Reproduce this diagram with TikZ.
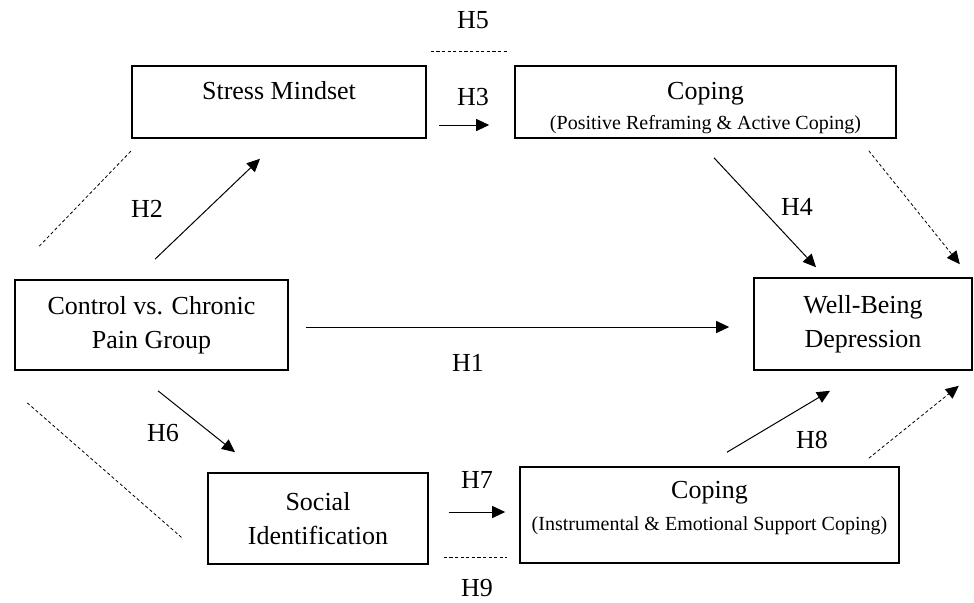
\documentclass[tikz,border=0pt]{standalone}
\usepackage{fontspec}
\setmainfont{Liberation Serif}
\usetikzlibrary{arrows.meta}
\newcommand{\detailfont}{\fontsize{10}{12}\selectfont}

\begin{document}
\begin{tikzpicture}[x=0.5pt, y=-0.5pt,
        varbox/.style={draw, line width=0.8pt, align=center, inner sep=0pt, font=\fontsize{13}{17}\selectfont},
        link/.style={-{Triangle[length=6.5pt,width=6pt]}, line width=0.5pt},
        ind/.style={dash pattern=on 1.6pt off 1.2pt, line width=0.4pt},
        indarr/.style={ind, -{Triangle[length=6.5pt,width=6pt]}},
        hyp/.style={font=\fontsize{13}{15}\selectfont, inner sep=0pt}
    ]
    \useasboundingbox (0,0) rectangle (974,602);

    % BOXES
    \node[varbox, minimum width=147pt, minimum height=36pt, text depth=12pt] (stress) at (279,102) {Stress Mindset};
    \node[varbox, minimum width=190.5pt, minimum height=36pt] (copa) at (705.5,102)
        {\rule{0pt}{15pt}Coping\\[-2pt]{\detailfont (Positive Reframing \& Active Coping)}};
    \node[varbox, minimum width=136.5pt, minimum height=45pt] (group) at (151.5,325) {Control vs. Chronic\\Pain Group};
    \node[varbox, minimum width=109pt, minimum height=46pt] (wb) at (863,324) {Well-Being\\Depression};
    \node[varbox, minimum width=110pt, minimum height=45.5pt] (socid) at (318,518.5) {Social\\Identification};
    \node[varbox, minimum width=189.5pt, minimum height=48pt] (copb) at (709.5,515)
        {Coping\\[-1pt]{\detailfont (Instrumental \& Emotional Support Coping)\rule[-9.5pt]{0pt}{0pt}}};

    % Direct paths
    \draw[link] ([shift={(17,2)}]group.east) -- ([shift={(-24,3)}]wb.west);
    \draw[link] ([shift={(3.5,-20)}]group.north) -- ([shift={(-19,20)}]stress.south);
    \draw[link] ([shift={(12,23)}]stress.east) -- ([shift={(-25,23)}]copa.west);
    \draw[link] ([shift={(8.5,19)}]copa.south) -- ([shift={(-47,-10)}]wb.north);
    \draw[link] ([shift={(6.5,20)}]group.south) -- ([shift={(-83,-20)}]socid.north);
    \draw[link] ([shift={(20,-6.5)}]socid.east) -- ([shift={(-14,-3)}]copb.west);
    \draw[link] ([shift={(17.5,-14)}]copb.north) -- ([shift={(-33,20)}]wb.south);

    % Indirect paths
    \draw[ind] ([shift={(25,-33)}]group.north west) -- ([shift={(0,12)}]stress.south west);
    \draw[ind] ([shift={(4,-14)}]stress.north east) -- ([shift={(-7,-14)}]copa.north west);
    \draw[indarr] ([shift={(-28,12)}]copa.south east) -- ([shift={(-13,-13)}]wb.north east);
    \draw[ind] ([shift={(13,32)}]group.south west) -- ([shift={(-25,19.5)}]socid.west);
    \draw[ind] ([shift={(15,-7)}]socid.south east) -- ([shift={(-12,-6)}]copb.south west);
    \draw[indarr] ([shift={(-31,-8)}]copb.north east) -- ([shift={(-14,15)}]wb.south east);

    % Hypotheses
    \node[hyp] (h1) at (468,363) {H1};
    \node[hyp] (h2) at (147,209) {H2};
    \node[hyp] (h3) at (473,97) {H3};
    \node[hyp] (h4) at (797,207) {H4};
    \node[hyp] (h5) at (473,20) {H5};
    \node[hyp] (h6) at (163,433) {H6};
    \node[hyp] (h7) at (477,480) {H7};
    \node[hyp] (h8) at (812,440) {H8};
    \node[hyp] (h9) at (477,588) {H9};

\end{tikzpicture}
\end{document}
